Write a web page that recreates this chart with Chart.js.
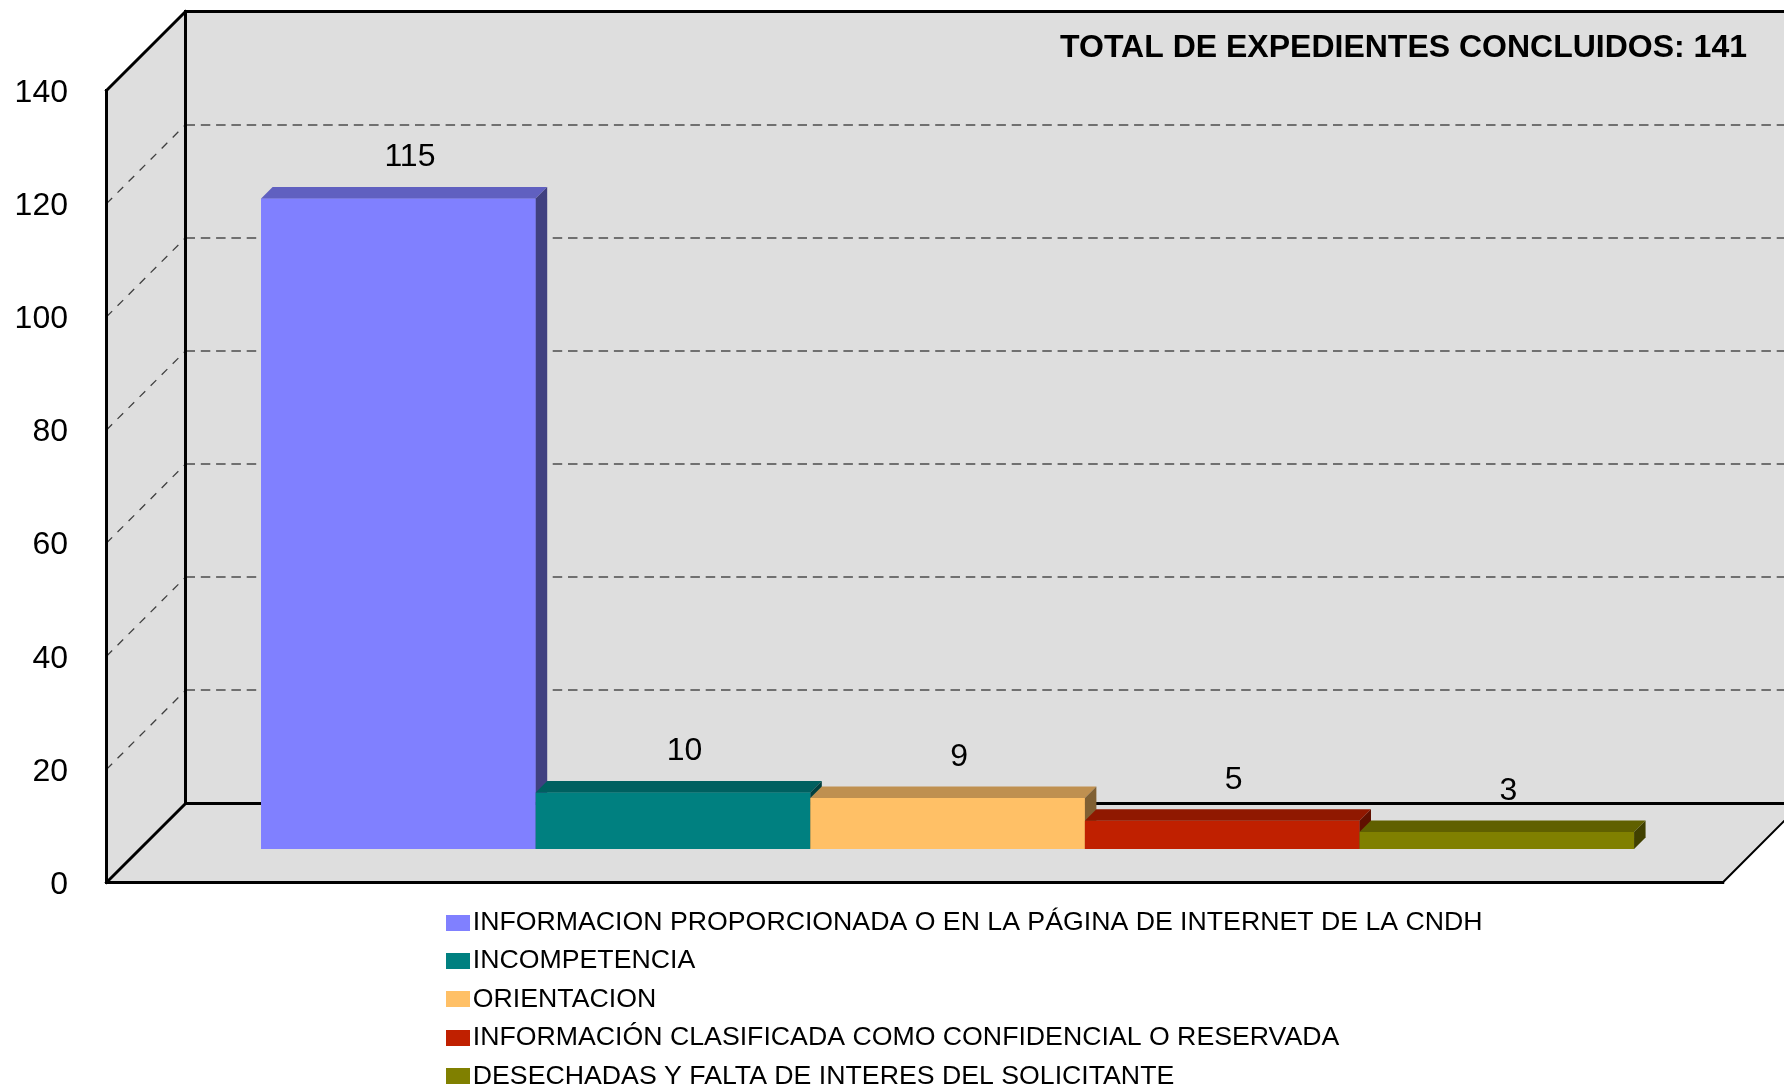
<!DOCTYPE html>
<html>
<head>
<meta charset="utf-8">
<style>html,body{margin:0;padding:0;background:#fff}canvas{display:block}</style>
<script src="https://cdn.jsdelivr.net/npm/chart.js@4/dist/chart.umd.min.js"></script>
</head>
<body>
<canvas id="c" width="1784" height="1086"></canvas>
<script>
const categories = [''];
const seriesNames = [
  'INFORMACION PROPORCIONADA O EN LA PÁGINA DE INTERNET DE LA CNDH',
  'INCOMPETENCIA',
  'ORIENTACION',
  'INFORMACIÓN CLASIFICADA COMO CONFIDENCIAL O RESERVADA',
  'DESECHADAS Y FALTA DE INTERES DEL SOLICITANTE'
];
const seriesValues = [115, 10, 9, 5, 3];
const frontColors = ['#8080FF', '#008080', '#FFC066', '#C02000', '#808000'];
const topColors   = ['#6060C0', '#006060', '#BF9050', '#901800', '#606000'];
const sideColors  = ['#404080', '#004040', '#806033', '#601000', '#404000'];
const titleText = 'TOTAL DE EXPEDIENTES CONCLUIDOS: 141';
const yTicks = { min: 0, max: 140, step: 20 };

const FONT = '"Liberation Sans", Arial, sans-serif';
const WALL = '#DEDEDE';
const DEPTH = 79, BAR_DX = 33, BAR_DY = 33.5, BAR_DEPTH = 11.5;

function swatch(color) {
  const s = document.createElement('canvas');
  s.width = 24; s.height = 16;
  const g = s.getContext('2d');
  g.fillStyle = color; g.fillRect(0, 0, 24, 16);
  return s;
}
const swatches = frontColors.map(swatch);

function poly(ctx, pts, fill) {
  ctx.beginPath();
  pts.forEach((p, i) => i ? ctx.lineTo(p[0], p[1]) : ctx.moveTo(p[0], p[1]));
  ctx.closePath();
  ctx.fillStyle = fill;
  ctx.fill();
}
function line(ctx, x1, y1, x2, y2) {
  ctx.beginPath(); ctx.moveTo(x1, y1); ctx.lineTo(x2, y2); ctx.stroke();
}

const floating = (box) => {
  if (box._floated) return;
  const update = box.update.bind(box);
  box.update = function (w, h, m) { update(w, h, m); this.width = 0; this.height = 0; };
  box._floated = true;
};
const place = (box, l, t, r, b) => {
  box.left = l; box.top = t; box.right = r; box.bottom = b;
  box.width = r - l; box.height = b - t;
};

const box3d = {
  id: 'box3d',
  beforeLayout(chart) {
    floating(chart.legend);
    floating(chart.titleBlock);
  },
  afterLayout(chart) {
    place(chart.legend, 445.25, 897.5, 1600, 1300);
    place(chart.titleBlock, 1000, 28.5, 1747, 70);
  },
  beforeDraw(chart) {
    const { ctx, chartArea: a, scales: { y } } = chart;
    const L = a.left, R = a.right, T = a.top, B = a.bottom;
    ctx.save();
    poly(ctx, [[L, T], [L + DEPTH, T - DEPTH], [R + DEPTH, T - DEPTH], [R + DEPTH, B - DEPTH], [R, B], [L, B]], WALL);
    // gridlines on the back wall and the side wall
    for (let v = yTicks.min + yTicks.step; v < yTicks.max; v += yTicks.step) {
      const p = y.getPixelForValue(v);
      const q = Math.round(p - DEPTH);
      ctx.lineWidth = 2; ctx.strokeStyle = '#707070'; ctx.setLineDash([9.5, 5.8]);
      line(ctx, L + DEPTH, q, R + DEPTH, q);
      ctx.lineWidth = 1.3; ctx.strokeStyle = '#404040'; ctx.setLineDash([8, 7.6]);
      line(ctx, L, p, L + DEPTH, p - DEPTH);
    }
    ctx.setLineDash([]);
    ctx.strokeStyle = '#000'; ctx.lineWidth = 3; ctx.lineCap = 'square';
    line(ctx, L, T, L, B);
    line(ctx, L, T, L + DEPTH, T - DEPTH);
    line(ctx, L + DEPTH, T - DEPTH, R + DEPTH, T - DEPTH);
    line(ctx, L + DEPTH, T - DEPTH, L + DEPTH, B - DEPTH);
    line(ctx, L, B, L + DEPTH, B - DEPTH);
    line(ctx, L + DEPTH, B - DEPTH, R + DEPTH, B - DEPTH);
    line(ctx, L, B, R, B);
    ctx.lineWidth = 2;
    line(ctx, R, B, R + DEPTH, B - DEPTH);
    ctx.restore();
  },
  beforeDatasetsDraw(chart) {
    chart.ctx.save();
    chart.ctx.translate(BAR_DX, -BAR_DY);
  },
  afterDatasetsDraw(chart) {
    const ctx = chart.ctx;
    const d = BAR_DEPTH;
    chart.data.datasets.forEach((ds, i) => {
      const el = chart.getDatasetMeta(i).data[0];
      const hw = el.width / 2, l = el.x - hw, r = el.x + hw, t = el.y, b = el.base;
      el.draw(ctx);
      poly(ctx, [[l, t], [l + d, t - d], [r + d, t - d], [r, t]], topColors[i]);
      poly(ctx, [[r, t], [r + d, t - d], [r + d, b - d], [r, b]], sideColors[i]);
    });
    ctx.fillStyle = '#000';
    ctx.font = '32px ' + FONT;
    ctx.textAlign = 'center';
    ctx.textBaseline = 'alphabetic';
    chart.data.datasets.forEach((ds, i) => {
      const el = chart.getDatasetMeta(i).data[0];
      ctx.fillText(String(ds.data[0]), el.x + d, el.y - d - 20.5);
    });
    ctx.restore();
  }
};

new Chart(document.getElementById('c'), {
  type: 'bar',
  data: {
    labels: categories,
    datasets: seriesNames.map((name, i) => ({
      label: name,
      data: [seriesValues[i]],
      backgroundColor: frontColors[i],
      borderWidth: 0,
      clip: false
    }))
  },
  options: {
    responsive: false,
    animation: false,
    events: [],
    font: { family: FONT },
    layout: { padding: { left: 0, top: 90.5, right: 61.3, bottom: 203.5 } },
    datasets: { bar: { barPercentage: 1, categoryPercentage: 0.8495 } },
    scales: {
      x: { display: false },
      y: {
        min: yTicks.min,
        max: yTicks.max,
        afterFit(s) { s.width = 106.5; },
        grid: { display: false, drawTicks: false },
        border: { display: false },
        ticks: {
          stepSize: yTicks.step,
          color: '#000',
          padding: 38.5,
          labelOffset: 2.5,
          font: { family: FONT, size: 32 }
        }
      }
    },
    plugins: {
      tooltip: { enabled: false },
      title: {
        display: true,
        text: titleText,
        align: 'end',
        color: '#000',
        padding: 0,
        font: { family: FONT, size: 32, weight: 'bold' }
      },
      legend: {
        position: 'left',
        align: 'start',
        labels: {
          usePointStyle: true,
          pointStyleWidth: 2.5,
          color: '#000',
          padding: 11.7,
          font: { family: FONT, size: 26.7 },
          generateLabels: () => seriesNames.map((name, i) => ({
            text: name,
            fillStyle: frontColors[i],
            strokeStyle: frontColors[i],
            lineWidth: 0,
            pointStyle: swatches[i],
            datasetIndex: i,
            hidden: false
          }))
        }
      }
    }
  },
  plugins: [box3d]
});
</script>
</body>
</html>
